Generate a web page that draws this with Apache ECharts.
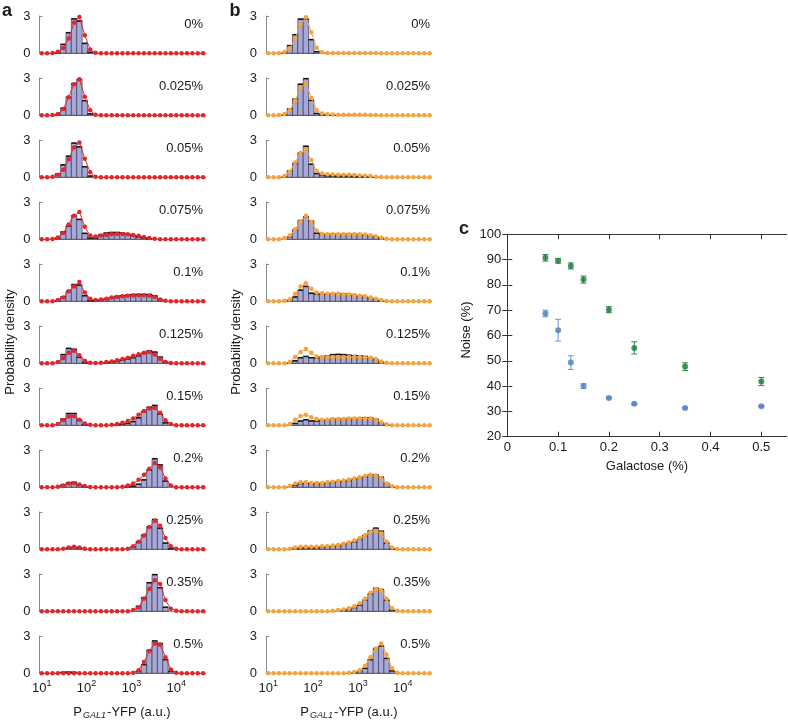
<!DOCTYPE html>
<html><head><meta charset="utf-8">
<script src="https://cdn.jsdelivr.net/npm/echarts@6/dist/echarts.min.js"></script>
<style>html,body{margin:0;padding:0;background:#fff}#c{width:788px;height:720px}</style>
</head><body><div id="c"></div>
<script>
// log10 bin centres of the YFP histograms
const binCenters = [1.00,1.12,1.24,1.36,1.48,1.60,1.72,1.84,1.96,2.08,2.20,2.32,2.44,2.56,2.68,2.80,2.92,3.04,3.16,3.28,3.40,3.52,3.64,3.76,3.88,4.00,4.12,4.24,4.36,4.48,4.60];
const xTickLogs = [1,2,3,4];
const concentrations = ['0%','0.025%','0.05%','0.075%','0.1%','0.125%','0.15%','0.2%','0.25%','0.35%','0.5%'];

// panel a: measured histograms (bars) and model (red)
const histA0 = [0,0,0,0.05,0.72,1.66,2.77,2.6,0.8,0.08, 0,0,0,0,0,0,0,0,0,0, 0,0,0,0,0,0,0,0,0,0, 0];
const fitA0  = [0,0,0.02,0.12,0.42,1.2,2.45,2.92,1.45,0.3, 0.04,0,0,0,0,0,0,0,0,0, 0,0,0,0,0,0,0,0,0,0, 0];
const histA1 = [0,0,0,0.05,0.58,1.46,2.55,2.88,1.18,0.12, 0,0,0,0,0,0,0,0,0,0, 0,0,0,0,0,0,0,0,0,0, 0];
const fitA1  = [0,0,0.02,0.1,0.5,1.45,2.5,2.9,1.5,0.4, 0.05,0,0,0,0,0,0,0,0,0, 0,0,0,0,0,0,0,0,0,0, 0];
const histA2 = [0,0,0,0.27,1.0,1.7,2.75,2.45,0.85,0.1, 0,0,0,0,0,0,0,0,0,0, 0,0,0,0,0,0,0,0,0,0, 0];
const fitA2  = [0,0,0.05,0.2,0.6,1.45,2.4,2.8,1.5,0.4, 0.05,0,0,0,0,0,0,0,0,0, 0,0,0,0,0,0,0,0,0,0, 0];
const histA3 = [0,0,0,0.1,0.6,1.07,1.9,1.6,0.48,0.1, 0.1,0.35,0.5,0.55,0.55,0.5,0.4,0.3,0.2,0.1, 0.05,0,0,0,0,0,0,0,0,0, 0];
const fitA3  = [0,0,0.03,0.15,0.5,1.2,1.9,2.2,1.0,0.3, 0.22,0.3,0.35,0.4,0.42,0.42,0.4,0.35,0.28,0.18, 0.1,0.04,0,0,0,0,0,0,0,0, 0];
const histA4 = [0,0,0,0.05,0.35,0.8,1.35,1.3,0.45,0.05, 0.05,0.1,0.2,0.3,0.4,0.45,0.5,0.55,0.55,0.55, 0.55,0.45,0.15,0,0,0,0,0,0,0, 0];
const fitA4  = [0,0,0,0.1,0.3,0.8,1.2,1.55,0.7,0.2, 0.1,0.15,0.2,0.3,0.35,0.4,0.45,0.47,0.48,0.48, 0.45,0.35,0.15,0.05,0,0,0,0,0,0, 0];
const histA5 = [0,0,0,0,0.7,1.2,1.13,0.48,0.05,0, 0,0,0.05,0.1,0.15,0.25,0.35,0.45,0.6,0.8, 1.0,0.9,0.5,0.1,0,0,0,0,0,0, 0];
const fitA5  = [0,0,0,0.1,0.4,0.85,1.0,0.65,0.2,0.05, 0.03,0.05,0.1,0.15,0.25,0.35,0.45,0.6,0.72,0.85, 0.9,0.7,0.35,0.1,0.02,0,0,0,0,0, 0];
const histA6 = [0,0,0,0,0.5,0.95,0.95,0.4,0.05,0, 0,0,0,0,0.05,0.1,0.15,0.3,0.6,1.1, 1.45,1.6,0.9,0.2,0,0,0,0,0,0, 0];
const fitA6  = [0,0,0,0.1,0.4,0.7,0.72,0.45,0.15,0.05, 0,0,0,0.05,0.1,0.2,0.35,0.55,0.85,1.15, 1.35,1.4,1.0,0.4,0.1,0,0,0,0,0, 0];
const histA7 = [0,0,0,0,0.2,0.35,0.4,0.2,0.05,0, 0,0,0,0,0,0,0.05,0.1,0.25,0.6, 1.4,2.3,1.8,0.5,0,0,0,0,0,0, 0];
const fitA7  = [0,0,0,0.05,0.15,0.3,0.32,0.22,0.1,0.03, 0,0,0,0,0,0.05,0.15,0.3,0.6,1.0, 1.5,1.95,1.6,0.7,0.15,0,0,0,0,0, 0];
const histA8 = [0,0,0,0,0,0.1,0.15,0.1,0,0, 0,0,0,0,0,0,0,0.2,0.6,1.15, 1.8,2.4,1.7,0.5,0.05,0,0,0,0,0, 0];
const fitA8  = [0,0,0,0,0.05,0.15,0.2,0.15,0.05,0, 0,0,0,0,0,0,0.05,0.25,0.6,1.1, 1.8,2.3,1.9,0.9,0.25,0.05,0,0,0,0, 0];
const histA9 = [0,0,0,0,0,0,0,0,0,0, 0,0,0,0,0,0,0,0,0.4,1.1, 2.3,2.95,1.9,0.33,0,0,0,0,0,0, 0];
const fitA9  = [0,0,0,0,0,0,0,0,0,0, 0,0,0,0,0,0,0,0.1,0.3,1.0, 1.8,2.5,2.2,0.9,0.2,0.05,0,0,0,0, 0];
const histA10= [0,0,0,0,0.08,0.1,0.08,0,0,0, 0,0,0,0,0,0,0,0,0.15,0.7, 1.85,2.6,2.4,1.1,0.15,0,0,0,0,0, 0];
const fitA10 = [0,0,0,0,0,0,0,0,0,0, 0,0,0,0,0,0,0,0.05,0.25,0.9, 1.8,2.4,2.3,1.3,0.3,0.05,0,0,0,0, 0];

// panel b: measured histograms (bars) and model (orange)
const histB0 = [0,0,0,0.05,0.62,1.5,2.75,2.75,1.1,0.13, 0,0,0,0,0,0,0,0,0,0, 0,0,0,0,0,0,0,0,0,0, 0];
const fitB0  = [0,0,0.02,0.1,0.4,1.2,2.3,2.9,1.7,0.45, 0.08,0.03,0.02,0.02,0.02,0.02,0.02,0.02,0.02,0.02, 0.02,0,0,0,0,0,0,0,0,0, 0];
const histB1 = [0,0,0,0.05,0.5,1.3,2.5,2.95,1.2,0.15, 0.04,0.03,0.03,0,0,0,0,0,0,0, 0,0,0,0,0,0,0,0,0,0, 0];
const fitB1  = [0,0,0.02,0.1,0.4,1.2,2.2,2.6,1.4,0.4, 0.15,0.08,0.06,0.05,0.05,0.05,0.05,0.04,0.04,0.03, 0.02,0,0,0,0,0,0,0,0,0, 0];
const histB2 = [0,0,0,0.05,0.5,1.1,1.95,2.5,1.05,0.3, 0.15,0.12,0.1,0.1,0.1,0.1,0.08,0.06,0.05,0.03, 0,0,0,0,0,0,0,0,0,0, 0];
const fitB2  = [0,0,0,0.1,0.45,1.2,1.95,2.2,1.4,0.5, 0.3,0.25,0.22,0.2,0.2,0.2,0.18,0.15,0.12,0.1, 0.05,0.02,0,0,0,0,0,0,0,0, 0];
const histB3 = [0,0,0,0,0.2,0.75,1.5,1.8,1.45,0.5, 0.4,0.4,0.4,0.4,0.4,0.4,0.4,0.4,0.35,0.3, 0.2,0.08,0,0,0,0,0,0,0,0, 0];
const fitB3  = [0,0,0,0.1,0.3,0.8,1.45,1.9,1.4,0.7, 0.45,0.4,0.4,0.4,0.4,0.4,0.4,0.4,0.38,0.33, 0.25,0.12,0.04,0,0,0,0,0,0,0, 0];
const histB4 = [0,0,0,0,0.1,0.35,0.9,1.2,0.65,0.6, 0.6,0.6,0.62,0.62,0.6,0.55,0.5,0.45,0.35,0.25, 0.15,0.05,0,0,0,0,0,0,0,0, 0];
const fitB4  = [0,0,0,0.05,0.15,0.6,1.2,1.45,1.0,0.7, 0.65,0.6,0.6,0.6,0.55,0.55,0.5,0.45,0.4,0.3, 0.2,0.1,0.03,0,0,0,0,0,0,0, 0];
const histB5 = [0,0,0,0,0.05,0.2,0.45,0.55,0.45,0.45, 0.5,0.6,0.7,0.72,0.7,0.65,0.62,0.6,0.55,0.45, 0.3,0.1,0,0,0,0,0,0,0,0, 0];
const fitB5  = [0,0,0,0,0.1,0.5,0.9,1.15,0.85,0.55, 0.5,0.5,0.5,0.5,0.5,0.5,0.5,0.5,0.48,0.45, 0.35,0.15,0.05,0,0,0,0,0,0,0, 0];
const histB6 = [0,0,0,0,0,0.15,0.35,0.45,0.35,0.35, 0.4,0.45,0.5,0.5,0.5,0.55,0.55,0.55,0.6,0.6, 0.5,0.2,0.05,0,0,0,0,0,0,0, 0];
const fitB6  = [0,0,0,0,0.1,0.45,0.75,0.85,0.65,0.5, 0.45,0.45,0.5,0.5,0.5,0.55,0.55,0.55,0.55,0.55, 0.45,0.25,0.08,0,0,0,0,0,0,0, 0];
const histB7 = [0,0,0,0,0,0.15,0.3,0.35,0.3,0.3, 0.3,0.35,0.4,0.45,0.5,0.55,0.65,0.75,0.85,1.0, 1.0,0.8,0.3,0.05,0,0,0,0,0,0, 0];
const fitB7  = [0,0,0,0,0.1,0.3,0.4,0.4,0.35,0.35, 0.35,0.4,0.45,0.5,0.55,0.62,0.7,0.8,0.9,1.0, 0.95,0.7,0.3,0.08,0,0,0,0,0,0, 0];
const histB8 = [0,0,0,0,0,0.1,0.12,0.12,0.12,0.12, 0.15,0.2,0.25,0.3,0.4,0.5,0.6,0.8,1.1,1.5, 1.7,1.45,0.5,0.05,0,0,0,0,0,0, 0];
const fitB8  = [0,0,0,0,0.05,0.15,0.2,0.2,0.2,0.2, 0.25,0.25,0.3,0.35,0.45,0.55,0.7,0.9,1.15,1.4, 1.5,1.3,0.6,0.15,0.03,0,0,0,0,0, 0];
const histB9 = [0,0,0,0,0,0,0,0,0,0, 0,0,0,0,0.1,0.15,0.3,0.5,0.9,1.4, 1.85,1.75,0.9,0.1,0,0,0,0,0,0, 0];
const fitB9  = [0,0,0,0,0,0,0,0,0,0, 0,0,0.05,0.1,0.15,0.25,0.4,0.65,1.0,1.5, 1.8,1.7,1.0,0.25,0.05,0,0,0,0,0, 0];
const histB10= [0,0,0,0,0,0,0,0,0,0, 0,0,0,0,0,0,0.05,0.15,0.4,1.1, 2.0,2.2,1.2,0.2,0,0,0,0,0,0, 0];
const fitB10 = [0,0,0,0,0,0,0,0,0,0, 0,0,0,0,0,0.05,0.1,0.25,0.6,1.3, 2.0,2.4,1.5,0.4,0.05,0,0,0,0,0, 0];

// panel c: noise vs galactose
const galactose  = [0.075,0.1,0.125,0.15,0.2,0.25,0.35,0.5];
const noiseGreen = [90.7,89.5,87.5,82.1,70.2,55.1,47.7,41.8];
const errGreen   = [1.3,0.9,1.2,1.4,1.2,2.4,1.5,1.6];
const noiseBlue  = [68.7,62.1,49.3,40.0,35.3,33.0,31.3,32.0];
const errBlue    = [1.3,4.3,2.7,0.9,0.3,0.3,0.3,0.3];

const histA = [histA0,histA1,histA2,histA3,histA4,histA5,histA6,histA7,histA8,histA9,histA10];
const fitA  = [fitA0,fitA1,fitA2,fitA3,fitA4,fitA5,fitA6,fitA7,fitA8,fitA9,fitA10];
const histB = [histB0,histB1,histB2,histB3,histB4,histB5,histB6,histB7,histB8,histB9,histB10];
const fitB  = [fitB0,fitB1,fitB2,fitB3,fitB4,fitB5,fitB6,fitB7,fitB8,fitB9,fitB10];

const FONT = '"Liberation Sans", Arial, Helvetica, sans-serif';
const TXT = '#1a1a1a';
const chart = echarts.init(document.getElementById('c'), null, {renderer: 'canvas'});
const grids = [], xAxes = [], yAxes = [], series = [], graphics = [];
const HALF_BIN = 0.06;

function renderBar(params, api) {
  const x = api.value(0), y = api.value(1);
  if (!(y > 0)) return null;
  const p0 = api.coord([x - HALF_BIN, y]);
  const p1 = api.coord([x + HALF_BIN, 0]);
  return {type: 'group', children: [
    {type: 'rect', shape: {x: p0[0], y: p0[1], width: p1[0] - p0[0], height: p1[1] - p0[1]},
     style: {fill: '#a6a8d9', stroke: '#3c3c46', lineWidth: 0.7}},
    {type: 'line', shape: {x1: p0[0], y1: p0[1], x2: p1[0], y2: p0[1]},
     style: {stroke: '#111', lineWidth: 1.5}}
  ]};
}

function addPanel(col, row, hist, fit, dotColor) {
  const gi = grids.length;
  const left = col === 0 ? 39.5 : 266;
  const top = 16 + 62 * row;
  const bottomRow = row === 10;
  grids.push({left: left, top: top, width: 165, height: 37.3, containLabel: false, outerBoundsMode: 'none'});
  xAxes.push({
    gridIndex: gi, type: 'value', min: 0.95, max: 4.63,
    axisLine: {show: true, onZero: false, lineStyle: {color: '#8a8a8a', width: 1}},
    axisTick: {show: false}, splitLine: {show: false},
    axisLabel: {
      show: bottomRow, customValues: xTickLogs, margin: 6, color: TXT,
      formatter: v => '{b|10}{s|' + Math.round(v) + '}',
      rich: {b: {fontSize: 13, fontFamily: FONT, color: TXT},
             s: {fontSize: 9, fontFamily: FONT, color: TXT, padding: [0, 0, 9, 0]}}
    }
  });
  yAxes.push({
    gridIndex: gi, type: 'value', min: 0, max: 3, interval: 3,
    axisLine: {show: true, lineStyle: {color: '#8a8a8a', width: 1}},
    axisTick: {show: true, inside: true, length: 3, lineStyle: {color: '#8a8a8a'}},
    splitLine: {show: false},
    axisLabel: {margin: 9, fontSize: 13, fontFamily: FONT, color: TXT}
  });
  series.push({
    type: 'custom', xAxisIndex: gi, yAxisIndex: gi, renderItem: renderBar, z: 2,
    data: binCenters.map((x, i) => [x, hist[i]]), silent: true
  });
  series.push({
    type: 'line', xAxisIndex: gi, yAxisIndex: gi, z: 3, silent: true,
    data: binCenters.map((x, i) => [x, fit[i]]),
    symbol: 'circle', symbolSize: 4.5, showSymbol: true,
    lineStyle: {color: dotColor, width: 1}, itemStyle: {color: dotColor, borderWidth: 0}
  });
  graphics.push({type: 'text', x: (col === 0 ? 203 : 430), y: top + 8,
    style: {text: concentrations[row], font: '13px ' + FONT, fill: TXT,
            textAlign: 'right', textVerticalAlign: 'middle', align: 'right', verticalAlign: 'middle'}});
}

for (let r = 0; r < 11; r++) {
  addPanel(0, r, histA[r], fitA[r], '#e3262c');
  addPanel(1, r, histB[r], fitB[r], '#f5a33e');
}

// panel c
const gc = grids.length;
grids.push({left: 507.3, top: 234.3, width: 279.4, height: 202.4, containLabel: false, outerBoundsMode: 'none'});
const cLine = {show: true, lineStyle: {color: '#333', width: 1}};
const cTick = {show: true, inside: true, length: 5, lineStyle: {color: '#333'}};
xAxes.push({gridIndex: gc, type: 'value', min: 0, max: 0.55, position: 'bottom',
  axisLine: cLine, axisTick: Object.assign({customValues: [0,0.1,0.2,0.3,0.4,0.5]}, cTick), splitLine: {show: false},
  axisLabel: {customValues: [0,0.1,0.2,0.3,0.4,0.5], margin: 4, fontSize: 13, fontFamily: FONT, color: TXT}});
xAxes.push({gridIndex: gc, type: 'value', min: 0, max: 0.55, position: 'top',
  axisLine: cLine, axisTick: Object.assign({customValues: [0,0.1,0.2,0.3,0.4,0.5]}, cTick), splitLine: {show: false},
  axisLabel: {show: false}});
yAxes.push({gridIndex: gc, type: 'value', min: 20, max: 100, interval: 10, position: 'left',
  axisLine: cLine, axisTick: cTick, splitLine: {show: false},
  axisLabel: {margin: 6, fontSize: 13, fontFamily: FONT, color: TXT}});
yAxes.push({gridIndex: gc, type: 'value', min: 20, max: 100, interval: 10, position: 'right',
  axisLine: cLine, axisTick: cTick, splitLine: {show: false}, axisLabel: {show: false}});
const cx = xAxes.length - 2, cy = yAxes.length - 2;

function renderErr(color) {
  return function (params, api) {
    const x = api.value(0), y = api.value(1), e = api.value(2);
    const pt = api.coord([x, y + e]), pb = api.coord([x, y - e]);
    const c = 3;
    return {type: 'group', children: [
      {type: 'line', shape: {x1: pt[0], y1: pt[1], x2: pb[0], y2: pb[1]}, style: {stroke: color, lineWidth: 1}},
      {type: 'line', shape: {x1: pt[0] - c, y1: pt[1], x2: pt[0] + c, y2: pt[1]}, style: {stroke: color, lineWidth: 1}},
      {type: 'line', shape: {x1: pb[0] - c, y1: pb[1], x2: pb[0] + c, y2: pb[1]}, style: {stroke: color, lineWidth: 1}}
    ]};
  };
}
series.push({type: 'custom', xAxisIndex: cx, yAxisIndex: cy, renderItem: renderErr('#2f8a4c'), silent: true,
  data: galactose.map((g, i) => [g, noiseGreen[i], errGreen[i]]), z: 2});
series.push({type: 'custom', xAxisIndex: cx, yAxisIndex: cy, renderItem: renderErr('#6a95cf'), silent: true,
  data: galactose.map((g, i) => [g, noiseBlue[i], errBlue[i]]), z: 2});
series.push({type: 'scatter', xAxisIndex: cx, yAxisIndex: cy, symbol: 'circle', symbolSize: 6, z: 3, silent: true,
  itemStyle: {color: '#1d7a3c'}, data: galactose.map((g, i) => [g, noiseGreen[i]])});
series.push({type: 'scatter', xAxisIndex: cx, yAxisIndex: cy, symbol: 'circle', symbolSize: 6, z: 3, silent: true,
  itemStyle: {color: '#4a7fc1'}, data: galactose.map((g, i) => [g, noiseBlue[i]])});

// text
const bold = 'bold 18px ' + FONT;
function txt(t, x, y, font, opts) {
  return Object.assign({type: 'text', x: x, y: y,
    style: Object.assign({text: t, font: font, fill: TXT, textAlign: 'center', textVerticalAlign: 'middle', align: 'center', verticalAlign: 'middle'}, (opts && opts.style) || {})},
    (opts && opts.el) || {});
}
graphics.push(txt('a', 7, 11, bold));
graphics.push(txt('b', 235, 11, bold));
graphics.push(txt('c', 464, 229, bold));
graphics.push(txt('Probability density', 10, 342, '13px ' + FONT, {el: {rotation: Math.PI / 2}}));
graphics.push(txt('Probability density', 236, 342, '13px ' + FONT, {el: {rotation: Math.PI / 2}}));
const subRich = {s: {fontSize: 9, fontStyle: 'italic', fontFamily: FONT, fill: TXT, padding: [7, 1, 0, 1]}};
graphics.push(txt('P{s|GAL1}-YFP (a.u.)', 122, 712, '13px ' + FONT, {style: {rich: subRich}}));
graphics.push(txt('P{s|GAL1}-YFP (a.u.)', 349, 712, '13px ' + FONT, {style: {rich: subRich}}));
graphics.push(txt('Noise (%)', 466, 330, '13px ' + FONT, {el: {rotation: Math.PI / 2}}));
graphics.push(txt('Galactose (%)', 647, 466, '13px ' + FONT));

chart.setOption({
  animation: false,
  backgroundColor: '#fff',
  grid: grids, xAxis: xAxes, yAxis: yAxes, series: series,
  graphic: {elements: graphics}
});
</script></body></html>
